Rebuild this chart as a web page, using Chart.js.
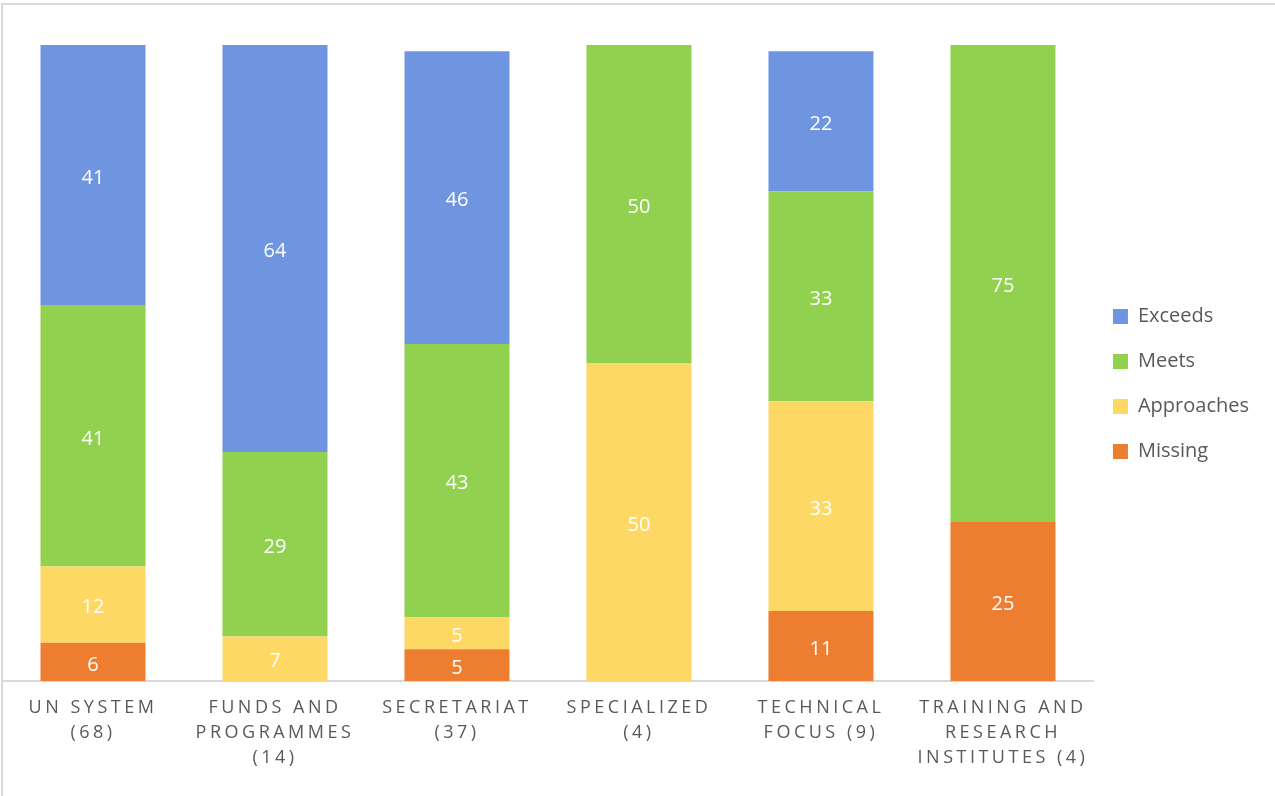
<!DOCTYPE html>
<html>
<head>
<meta charset="utf-8">
<script src="https://cdn.jsdelivr.net/npm/chart.js@4/dist/chart.umd.min.js"></script>
<style>
  html, body { margin: 0; padding: 0; background: #ffffff; }
  body { width: 1275px; height: 796px; position: relative; overflow: hidden; }
  .frame {
    position: absolute; left: 1px; top: 3px; width: 1400px; height: 900px;
    border-top: 2px solid #d9d9d9; border-left: 2px solid #d9d9d9;
  }
  #chart { position: absolute; left: 0; top: 0; }
</style>
</head>
<body>
<div class="frame"></div>
<canvas id="chart" width="1275" height="796"></canvas>
<script>
// Entity groups (with number of entities) shown along the x axis
const categories = [
  ['UN SYSTEM', '(68)'],
  ['FUNDS AND', 'PROGRAMMES', '(14)'],
  ['SECRETARIAT', '(37)'],
  ['SPECIALIZED', '(4)'],
  ['TECHNICAL', 'FOCUS (9)'],
  ['TRAINING AND', 'RESEARCH', 'INSTITUTES (4)']
];

// Share of entities (%) per rating, stacked bottom to top
const missing    = [6, 0, 5, 0, 11, 25];
const approaches = [12, 7, 5, 50, 33, 0];
const meets      = [41, 29, 43, 50, 33, 75];
const exceeds    = [41, 64, 46, 0, 22, 0];

const seriesNames = ['Missing', 'Approaches', 'Meets', 'Exceeds'];
const seriesData = [missing, approaches, meets, exceeds];
const seriesColors = ['#ED7D31', '#FDD865', '#92D050', '#6F95E0'];

const TEXT_GREY = '#595959';
const FONT = '"Open Sans", "DejaVu Sans", sans-serif';

// Writes each segment's value in white at the middle of the segment
const segmentValues = {
  id: 'segmentValues',
  afterDatasetsDraw(chart) {
    const ctx = chart.ctx;
    ctx.save();
    ctx.letterSpacing = '0px';
    ctx.font = '20px ' + FONT;
    ctx.fillStyle = '#ffffff';
    ctx.textAlign = 'center';
    ctx.textBaseline = 'middle';
    chart.data.datasets.forEach((ds, i) => {
      const meta = chart.getDatasetMeta(i);
      meta.data.forEach((bar, j) => {
        const v = ds.data[j];
        if (!v) return;
        const p = bar.getProps(['x', 'y', 'base'], true);
        ctx.fillText(String(v), p.x, (p.y + p.base) / 2 + 3);
      });
    });
    ctx.restore();
  }
};

// Category labels are drawn after the bars (ticks z = 1) with wide tracking
const trackedTicks = {
  id: 'trackedTicks',
  afterDatasetsDraw(chart) { chart.ctx.letterSpacing = '3.5px'; },
  afterDraw(chart) { chart.ctx.letterSpacing = '0px'; }
};

new Chart(document.getElementById('chart'), {
  type: 'bar',
  data: {
    labels: categories,
    datasets: seriesNames.map((name, i) => ({
      label: name,
      data: seriesData[i],
      backgroundColor: seriesColors[i],
      borderWidth: 0,
      categoryPercentage: 1,
      barPercentage: 0.577
    }))
  },
  options: {
    responsive: false,
    animation: false,
    devicePixelRatio: 1,
    layout: { padding: { top: 45, left: 2, right: 16, bottom: 12 } },
    scales: {
      x: {
        stacked: true,
        grid: { display: false, drawTicks: false },
        border: { display: true, color: '#d9d9d9', width: 2 },
        ticks: {
          z: 1,
          color: TEXT_GREY,
          font: { family: FONT, size: 18, lineHeight: '25px' },
          padding: 14,
          maxRotation: 0,
          autoSkip: false
        }
      },
      y: {
        stacked: true,
        display: false,
        min: 0,
        max: 100
      }
    },
    plugins: {
      legend: {
        position: 'right',
        fullSize: false,
        reverse: true,
        // blank title block keeps the key a little below the plot's middle
        title: { display: true, text: '', padding: 0, font: { size: 48, lineHeight: 1 } },
        labels: {
          color: TEXT_GREY,
          font: { family: FONT, size: 20, lineHeight: '26px' },
          boxWidth: 15,
          boxHeight: 15,
          padding: 19,
          // one-line label lists so each row advances by the font's line height
          generateLabels(chart) {
            return Chart.defaults.plugins.legend.labels.generateLabels(chart)
              .map(item => Object.assign({}, item, { text: [item.text] }));
          }
        }
      },
      tooltip: { enabled: false }
    }
  },
  plugins: [segmentValues, trackedTicks]
});
</script>
</body>
</html>
